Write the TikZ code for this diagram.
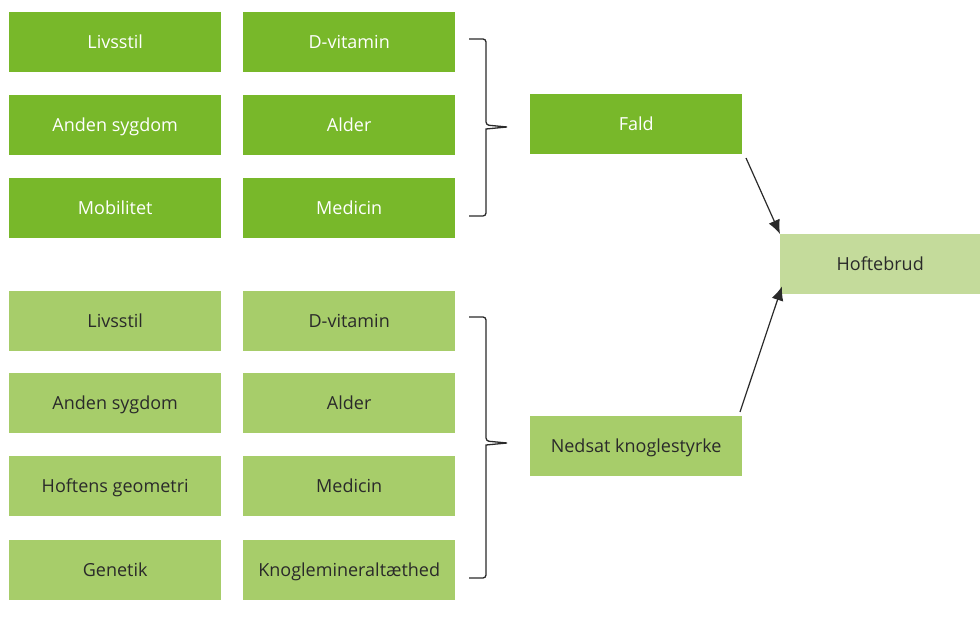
\documentclass[tikz,border=0pt]{standalone}
\usepackage{fontspec}
\setmainfont{Open Sans}
\usetikzlibrary{arrows.meta}
\definecolor{dgreen}{HTML}{78B82A}
\definecolor{lgreen}{HTML}{A7CD6A}
\definecolor{pgreen}{HTML}{C4DB9B}
\definecolor{txt}{HTML}{2A2A2A}
\tikzset{
  box/.style={minimum width=212pt,minimum height=60pt,inner sep=0pt,text height=14pt,text depth=2pt,anchor=north west,font=\fontsize{18}{21}\selectfont},
  dbox/.style={box,fill=dgreen,text=white},
  lbox/.style={box,fill=lgreen,text=txt},
  hbox/.style={box,fill=pgreen,text=txt,minimum width=200pt},
  brace/.style={line width=1.3pt,txt,rounded corners=3pt},
  arr/.style={line width=1.2pt,txt,-{Latex[length=14pt,width=12pt]}}
}
\begin{document}
\begin{tikzpicture}[x=1pt,y=-1pt]
\useasboundingbox (0,0) rectangle (980,617);
\node[dbox] (a1) at (9,12) {Livsstil};
\node[dbox] (a2) at (9,95) {Anden sygdom};
\node[dbox] (a3) at (9,178) {Mobilitet};
\node[dbox] (b1) at (243,12) {D-vitamin};
\node[dbox] (b2) at (243,95) {Alder};
\node[dbox] (b3) at (243,178) {Medicin};
\node[lbox] (c1) at (9,291) {Livsstil};
\node[lbox] (c2) at (9,373) {Anden sygdom};
\node[lbox] (c3) at (9,456) {Hoftens geometri};
\node[lbox] (c4) at (9,540) {Genetik};
\node[lbox] (d1) at (243,291) {D-vitamin};
\node[lbox] (d2) at (243,373) {Alder};
\node[lbox] (d3) at (243,456) {Medicin};
\node[lbox] (d4) at (243,540) {Knoglemineraltæthed};
\node[dbox] (fald) at (530,94) {Fald};
\node[lbox] (ned) at (530,416) {Nedsat knoglestyrke};
\node[hbox] (hof) at (780,234) {Hoftebrud};
\coordinate (t1) at (469,39);
\coordinate (t2) at (507,127);
\coordinate (t3) at (469,216);
\coordinate (u1) at (469,317);
\coordinate (u2) at (507,443);
\coordinate (u3) at (469,578);
\draw[brace] (t1) -- (486,39) -- (486,125) [sharp corners]-- (t2) -- (486,129) [rounded corners=3pt]-- (486,216) -- (t3);
\draw[brace] (u1) -- (486,317) -- (486,441) [sharp corners]-- (u2) -- (486,445) [rounded corners=3pt]-- (486,578) -- (u3);
\coordinate (s1) at (746,158);
\coordinate (s2) at (740,412);
\draw[arr] (s1) -- (hof.north west);
\draw[arr] (s2) -- ([xshift=2pt,yshift=8pt]hof.south west);
\end{tikzpicture}
\end{document}
